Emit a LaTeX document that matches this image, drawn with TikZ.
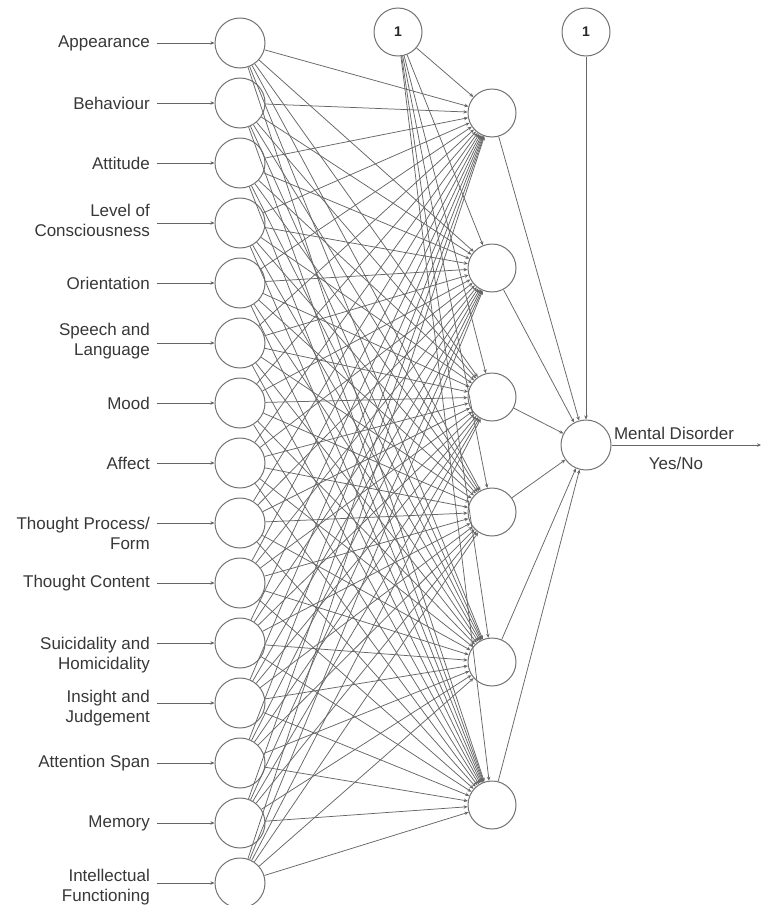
\documentclass[tikz,border=0pt]{standalone}
\usepackage{fontspec}
\setmainfont{Liberation Sans}
\usetikzlibrary{arrows.meta}
\begin{document}
\begin{tikzpicture}[x=1pt,y=-1pt,
  neuron/.style={circle,draw=black!55,line width=1pt,minimum size=50pt,inner sep=0pt},
  hid/.style={circle,draw=black!55,line width=1pt,minimum size=48pt,inner sep=0pt},
  bias/.style={circle,draw=black!55,line width=1pt,minimum size=48pt,inner sep=0pt,font=\fontsize{14}{16}\selectfont\bfseries,text=black!85},
  lbl/.style={font=\fontsize{17}{20}\selectfont,text=black!78,align=right,anchor=east,inner sep=0pt},
  olbl/.style={font=\fontsize{17}{20}\selectfont,text=black!78,inner sep=0pt},
  conn/.style={draw=black!60,line width=0.75pt,-{Stealth[length=4pt,width=3.5pt]}},
  ]
\useasboundingbox[fill=white] (0,0) rectangle (762,905);
% input layer
\foreach \i in {1,...,15} {
  \node[neuron] (i\i) at (240,{43+60*(\i-1)}) {};
  \coordinate (s\i) at (157,{43+60*(\i-1)});
}
% labels
\node[lbl] (l1) at (150,43) {Appearance};
\node[lbl] (l2) at (150,103) {Behaviour};
\node[lbl] (l3) at (150,163) {Attitude};
\node[lbl] (l4) at (150,220) {Level of\\Consciousness};
\node[lbl] (l5) at (150,283) {Orientation};
\node[lbl] (l6) at (150,341) {Speech and\\Language};
\node[lbl] (l7) at (150,403) {Mood};
\node[lbl] (l8) at (150,463) {Affect};
\node[lbl] (l9) at (150,533) {Thought Process/\\Form};
\node[lbl] (l10) at (150,583) {Thought Content};
\node[lbl] (l11) at (150,655) {Suicidality and\\Homicidality};
\node[lbl] (l12) at (150,708) {Insight and\\Judgement};
\node[lbl] (l13) at (150,763) {Attention Span};
\node[lbl] (l14) at (150,823) {Memory};
\node[lbl] (l15) at (150,887) {Intellectual\\Functioning};
% hidden layer
\foreach \j/\y in {1/113,2/268,3/397,4/512,5/662,6/805}
  \node[hid] (h\j) at (492,\y) {};
% bias nodes
\node[bias] (b1) at (398,32) {1};
\node[bias] (b2) at (586,32) {1};
% output
\node[neuron] (o) at (586,445) {};
\node[olbl] (md) at (674,433) {Mental Disorder};
\node[olbl] (yn) at (676,463) {Yes/No};
\coordinate (oe) at (761,445);
% connections
\foreach \i in {1,...,15} {
  \draw[conn] (s\i) -- (i\i);
  \foreach \j in {1,...,6}
    \draw[conn] (i\i) -- (h\j);
}
\foreach \j in {1,...,6} {
  \draw[conn] (b1) -- (h\j);
  \draw[conn] (h\j) -- (o);
}
\draw[conn] (b2) -- (o);
\draw[conn] (o) -- (oe);
\end{tikzpicture}
\end{document}
